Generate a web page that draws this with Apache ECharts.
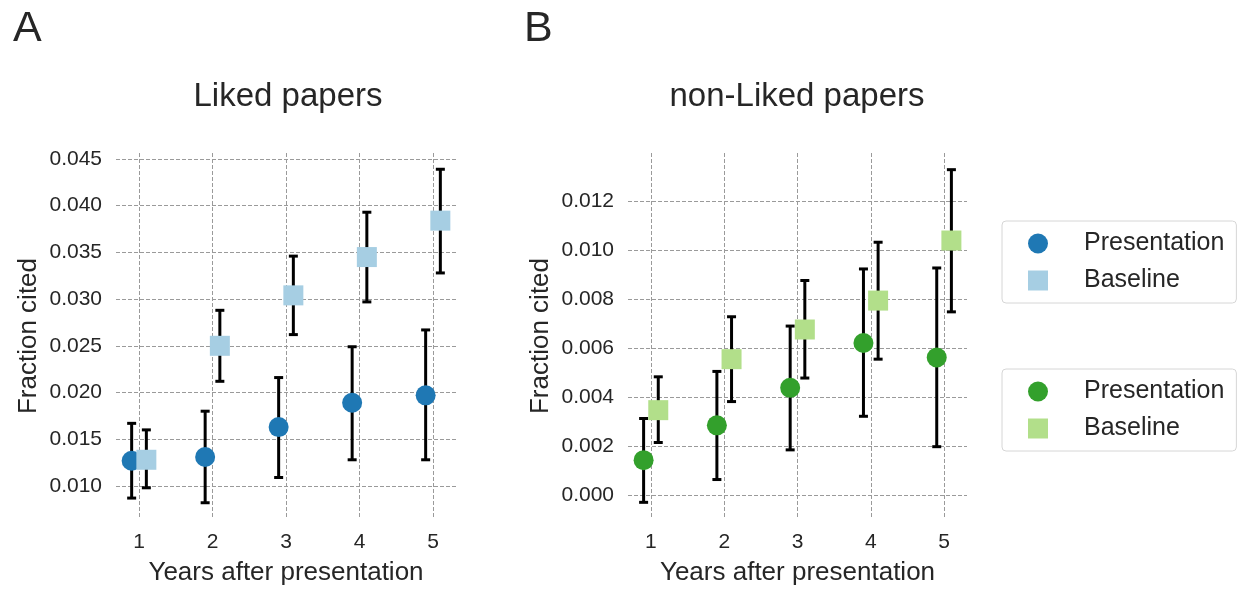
<!DOCTYPE html>
<html>
<head>
<meta charset="utf-8">
<script src="https://cdn.jsdelivr.net/npm/echarts@6/dist/echarts.min.js"></script>
<style>
  html, body { margin: 0; padding: 0; background: #fff; }
  #chart { width: 1238px; height: 591px; }
</style>
</head>
<body>
<div id="chart"></div>
<script>
// years on the x axis, each group dodged left / right
const years = [1, 2, 3, 4, 5];
const dodge = 0.1;

// A: Liked papers
const likedPres = [0.0127, 0.0131, 0.0163, 0.0189, 0.0197];
const likedPresLo = [0.0087, 0.0082, 0.0109, 0.0128, 0.0128];
const likedPresHi = [0.0167, 0.0180, 0.0216, 0.0249, 0.0267];
const likedBase = [0.0128, 0.0250, 0.0304, 0.0345, 0.0384];
const likedBaseLo = [0.0098, 0.0212, 0.0262, 0.0297, 0.0328];
const likedBaseHi = [0.0160, 0.0288, 0.0346, 0.0393, 0.0439];

// B: non-Liked papers
const nonPres = [0.00144, 0.00286, 0.00439, 0.00622, 0.00563];
const nonPresLo = [-0.00028, 0.00065, 0.00186, 0.00323, 0.00199];
const nonPresHi = [0.00314, 0.00506, 0.00691, 0.00924, 0.00928];
const nonBase = [0.00348, 0.00556, 0.00677, 0.00795, 0.0104];
const nonBaseLo = [0.00216, 0.00383, 0.00479, 0.00556, 0.00749];
const nonBaseHi = [0.00484, 0.00729, 0.00877, 0.01033, 0.01329];

// tick labels
const likedTicks = [0.010, 0.015, 0.020, 0.025, 0.030, 0.035, 0.040, 0.045];
const nonTicks = [0.000, 0.002, 0.004, 0.006, 0.008, 0.010, 0.012];

const FONT = "'Liberation Sans', Arial, sans-serif";
const TXT = '#262626';
const GRIDLINE = { color: '#9a9a9a', width: 1, type: [4, 2] };

const chart = echarts.init(document.getElementById('chart'));

const pts = (vals, off) => vals.map((v, i) => [years[i] + off, v]);
const bars = (lo, hi, off) => lo.map((v, i) => [years[i] + off, v, hi[i]]);

function errRenderItem(params, api) {
  const x = api.value(0);
  const lo = api.coord([x, api.value(1)]);
  const hi = api.coord([x, api.value(2)]);
  const cap = 4.5;
  const style = { stroke: '#000', lineWidth: 3 };
  return {
    type: 'group',
    children: [
      { type: 'line', shape: { x1: lo[0], y1: lo[1], x2: hi[0], y2: hi[1] }, style },
      { type: 'line', shape: { x1: lo[0] - cap, y1: lo[1], x2: lo[0] + cap, y2: lo[1] }, style },
      { type: 'line', shape: { x1: hi[0] - cap, y1: hi[1], x2: hi[0] + cap, y2: hi[1] }, style }
    ]
  };
}

function xAxis(gridIndex) {
  return {
    type: 'value', gridIndex, min: 0.687, max: 5.313,
    name: 'Years after presentation', nameLocation: 'middle', nameGap: 41,
    nameTextStyle: { fontSize: 26, color: TXT, fontFamily: FONT },
    axisLine: { show: false }, axisTick: { show: false, customValues: years },
    axisLabel: { customValues: years, fontSize: 21, color: TXT, fontFamily: FONT, margin: 13 },
    splitLine: { show: true, lineStyle: GRIDLINE }
  };
}

function yAxis(gridIndex, min, max, ticks) {
  return {
    type: 'value', gridIndex, min, max,
    name: 'Fraction cited', nameLocation: 'middle', nameGap: 74, nameRotate: 90,
    nameTextStyle: { fontSize: 26, color: TXT, fontFamily: FONT },
    axisLine: { show: false }, axisTick: { show: false, customValues: ticks },
    axisLabel: {
      customValues: ticks, fontSize: 21, color: TXT, fontFamily: FONT, margin: 14,
      formatter: v => v.toFixed(3)
    },
    splitLine: { show: true, lineStyle: GRIDLINE }
  };
}

function group(prefix, gi, pres, presLo, presHi, base, baseLo, baseHi, cPres, cBase, z0) {
  return [
    { type: 'custom', xAxisIndex: gi, yAxisIndex: gi, renderItem: errRenderItem,
      data: bars(presLo, presHi, -dodge), z: z0, silent: true },
    { type: 'scatter', name: prefix + '|Presentation', xAxisIndex: gi, yAxisIndex: gi,
      symbol: 'circle', symbolSize: 20, itemStyle: { color: cPres, opacity: 1 },
      data: pts(pres, -dodge), z: z0 + 1 },
    { type: 'custom', xAxisIndex: gi, yAxisIndex: gi, renderItem: errRenderItem,
      data: bars(baseLo, baseHi, dodge), z: z0 + 2, silent: true },
    { type: 'scatter', name: prefix + '|Baseline', xAxisIndex: gi, yAxisIndex: gi,
      symbol: 'rect', symbolSize: 20, itemStyle: { color: cBase, opacity: 1 },
      data: pts(base, dodge), z: z0 + 3 }
  ];
}

function legend(prefix, top) {
  return {
    orient: 'vertical', left: 1002, top,
    data: [{ name: prefix + '|Presentation', icon: 'circle' }, { name: prefix + '|Baseline', icon: 'rect' }],
    formatter: n => n.split('|')[1],
    itemWidth: 20, itemHeight: 20, itemGap: 12,
    padding: [10, 12, 10, 26],
    borderColor: '#d6d6d6', borderWidth: 1, borderRadius: 4,
    textStyle: { fontSize: 25, color: TXT, fontFamily: FONT, padding: [0, 0, 0, 31] },
    selectedMode: false
  };
}

chart.setOption({
  animation: false,
  textStyle: { fontFamily: FONT },
  grid: [
    { left: 116, top: 153, width: 340, height: 369 },
    { left: 628, top: 153, width: 339, height: 369 }
  ],
  xAxis: [xAxis(0), xAxis(1)],
  yAxis: [yAxis(0, 0.00646, 0.04564, likedTicks), yAxis(1, -0.00096, 0.01397, nonTicks)],
  legend: [legend('A', 221), legend('B', 369)],
  graphic: [
    { type: 'text', left: 13, top: 8, style: { text: 'A', font: '43px ' + FONT, fill: TXT } },
    { type: 'text', left: 524, top: 8, style: { text: 'B', font: '43px ' + FONT, fill: TXT } },
    { type: 'text', x: 288, y: 97, style: { text: 'Liked papers', font: '33px ' + FONT, fill: TXT, align: 'center', verticalAlign: 'middle' } },
    { type: 'text', x: 797, y: 97, style: { text: 'non-Liked papers', font: '33px ' + FONT, fill: TXT, align: 'center', verticalAlign: 'middle' } }
  ],
  series: [
    ...group('A', 0, likedPres, likedPresLo, likedPresHi, likedBase, likedBaseLo, likedBaseHi, '#1f78b4', '#a6cee3', 2),
    ...group('B', 1, nonPres, nonPresLo, nonPresHi, nonBase, nonBaseLo, nonBaseHi, '#33a02c', '#b2df8a', 2)
  ]
});
</script>
</body>
</html>
